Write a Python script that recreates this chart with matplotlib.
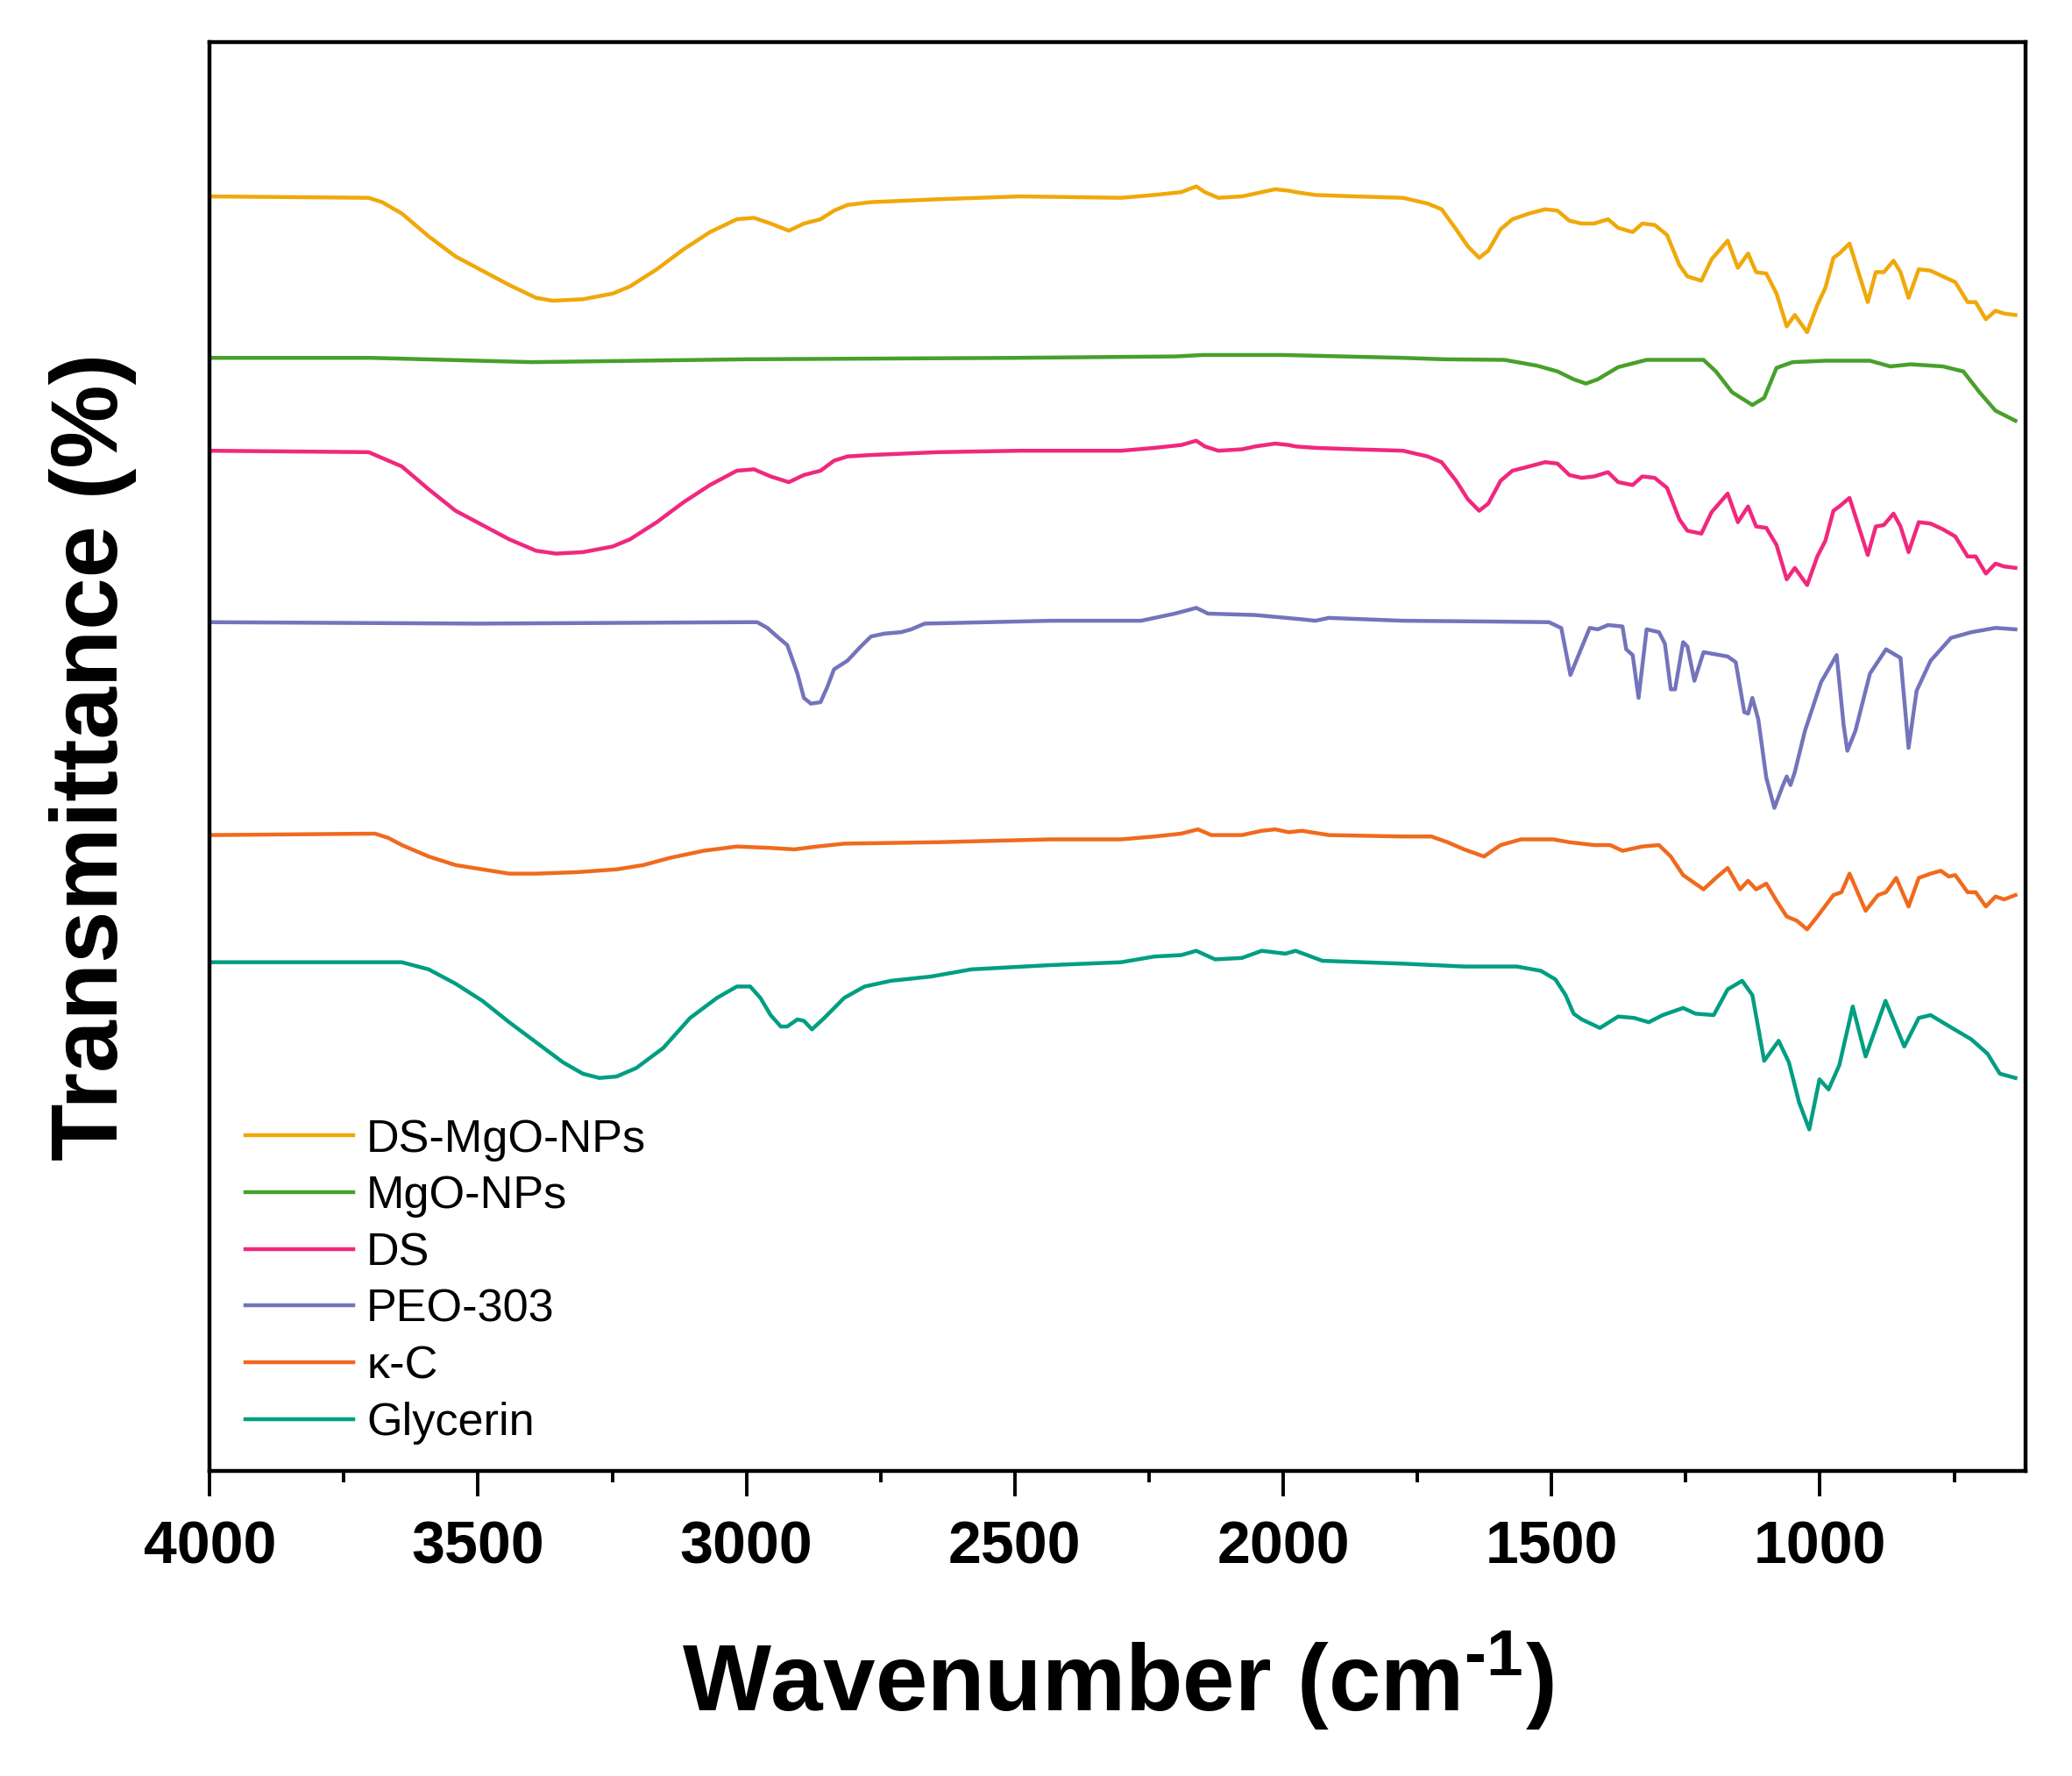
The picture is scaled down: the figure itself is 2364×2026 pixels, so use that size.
import numpy as np
import matplotlib
matplotlib.use("Agg")
import matplotlib.pyplot as plt
from matplotlib.ticker import MultipleLocator

# フォント
plt.rcParams["font.family"] = ["Liberation Sans", "DejaVu Sans"]
plt.rcParams["mathtext.fontset"] = "custom"
plt.rcParams["mathtext.rm"] = "Liberation Sans:bold"
plt.rcParams["mathtext.bf"] = "Liberation Sans:bold"
plt.rcParams["mathtext.default"] = "bf"

# データ (wavenumber, offset transmittance)
labels = ["DS-MgO-NPs", "MgO-NPs", "DS", "PEO-303", "κ-C", "Glycerin"]
colors = ["#F0A80A", "#48A02A", "#F0287E", "#7474BC", "#F06A1E", "#009E82"]

ds_mgo_x = [4000, 3704, 3679, 3642, 3592, 3542, 3492, 3442, 3392, 3361, 3305, 3249, 3217, 3167,
            3117, 3068, 3018, 2986, 2955, 2921, 2893, 2862, 2837, 2812, 2768, 2643, 2490, 2302,
            2240, 2190, 2162, 2146, 2121, 2077, 2052, 2015, 1990, 1977, 1940, 1865, 1777, 1731,
            1705, 1678, 1656, 1635, 1618, 1595, 1573, 1542, 1512, 1489, 1467, 1444, 1421, 1395,
            1376, 1349, 1331, 1308, 1285, 1262, 1247, 1221, 1202, 1172, 1153, 1134, 1119, 1100,
            1081, 1062, 1047, 1024, 1005, 990, 975, 964, 945, 911, 896, 881, 863, 850, 835, 816,
            794, 771, 748, 725, 710, 691, 673, 657, 636]
ds_mgo_y = [89.2, 89.1, 88.8, 88.0, 86.4, 85.0, 84.0, 83.0, 82.1, 81.9, 82.0, 82.4, 82.9, 84.1,
            85.5, 86.7, 87.6, 87.7, 87.3, 86.8, 87.3, 87.6, 88.2, 88.6, 88.8, 89.0, 89.2, 89.1,
            89.3, 89.5, 89.9, 89.5, 89.1, 89.2, 89.4, 89.7, 89.6, 89.5, 89.3, 89.2, 89.1, 88.7,
            88.3, 86.9, 85.7, 84.9, 85.4, 86.9, 87.6, 88.0, 88.3, 88.2, 87.5, 87.3, 87.3, 87.6,
            87.0, 86.7, 87.3, 87.2, 86.5, 84.4, 83.6, 83.3, 84.8, 86.1, 84.2, 85.2, 83.9, 83.8,
            82.4, 80.1, 80.9, 79.7, 81.6, 82.8, 84.9, 85.2, 85.9, 81.8, 83.9, 83.9, 84.7, 83.9,
            82.1, 84.1, 84.0, 83.6, 83.2, 81.8, 81.8, 80.6, 81.2, 81.0, 80.9]

mgo_x = [4000, 3700, 3400, 3000, 2500, 2200, 2150, 2000, 1777, 1701, 1588, 1527, 1489, 1459,
         1436, 1414, 1376, 1323, 1217, 1194, 1164, 1126, 1104, 1081, 1051, 990, 907, 869, 831,
         771, 733, 703, 673, 636]
mgo_y = [77.9, 77.9, 77.6, 77.8, 77.9, 78.0, 78.1, 78.1, 77.9, 77.8, 77.76, 77.35, 76.95, 76.4,
         76.1, 76.4, 77.25, 77.76, 77.76, 76.95, 75.5, 74.6, 75.1, 77.2, 77.6, 77.7, 77.7, 77.3,
         77.45, 77.3, 76.95, 75.5, 74.2, 73.5]

ds_x = [4000, 3704, 3642, 3592, 3542, 3492, 3442, 3392, 3355, 3305, 3249, 3217, 3167, 3117,
        3068, 3018, 2986, 2955, 2921, 2893, 2862, 2837, 2812, 2768, 2643, 2490, 2302, 2240,
        2190, 2162, 2146, 2121, 2077, 2052, 2015, 1990, 1977, 1940, 1865, 1777, 1731, 1705,
        1678, 1656, 1635, 1618, 1595, 1573, 1542, 1512, 1489, 1467, 1444, 1421, 1395, 1376,
        1349, 1331, 1308, 1285, 1262, 1247, 1221, 1202, 1172, 1153, 1134, 1119, 1100, 1081,
        1062, 1047, 1024, 1005, 990, 975, 964, 945, 911, 896, 881, 863, 850, 835, 816, 794,
        771, 748, 725, 710, 691, 673, 657, 636]
ds_y = [71.4, 71.3, 70.3, 68.7, 67.2, 66.2, 65.2, 64.4, 64.2, 64.3, 64.7, 65.2, 66.4, 67.8,
        69.0, 70.0, 70.1, 69.6, 69.2, 69.7, 70.0, 70.7, 71.0, 71.1, 71.3, 71.4, 71.4, 71.6,
        71.8, 72.1, 71.7, 71.4, 71.5, 71.7, 71.9, 71.8, 71.7, 71.6, 71.5, 71.4, 71.0, 70.6,
        69.3, 68.0, 67.2, 67.7, 69.3, 70.0, 70.3, 70.6, 70.5, 69.7, 69.5, 69.6, 69.9, 69.2,
        69.0, 69.6, 69.5, 68.8, 66.6, 65.8, 65.6, 67.1, 68.4, 66.4, 67.5, 66.1, 66.0, 64.8,
        62.4, 63.2, 62.0, 64.0, 65.1, 67.2, 67.5, 68.1, 64.1, 66.1, 66.2, 67.0, 66.1, 64.3,
        66.4, 66.3, 65.9, 65.4, 64.0, 64.0, 62.8, 63.5, 63.3, 63.2]

peo_x = [4000, 3500, 3000, 2980, 2961, 2943, 2924, 2905, 2893, 2880, 2862, 2849, 2837, 2812,
         2787, 2768, 2743, 2712, 2693, 2668, 2433, 2265, 2202, 2162, 2140, 2052, 1965, 1940,
         1915, 1777, 1625, 1505, 1482, 1465, 1452, 1429, 1414, 1395, 1368, 1361, 1349, 1338,
         1323, 1300, 1289, 1278, 1270, 1255, 1247, 1234, 1217, 1202, 1172, 1157, 1141, 1134,
         1126, 1115, 1100, 1085, 1070, 1062, 1055, 1047, 1028, 998, 969, 956, 949, 934, 907,
         877, 850, 835, 820, 794, 756, 718, 673, 636]
peo_y = [59.4, 59.3, 59.4, 59.4, 59.0, 58.4, 57.8, 55.8, 54.1, 53.7, 53.8, 54.9, 56.1, 56.7,
         57.7, 58.4, 58.6, 58.7, 58.9, 59.3, 59.5, 59.5, 60.0, 60.4, 60.0, 59.9, 59.6, 59.5,
         59.7, 59.5, 59.45, 59.4, 58.99, 55.7, 56.9, 59.0, 58.9, 59.2, 59.1, 57.5, 57.1, 54.1,
         58.9, 58.7, 57.9, 54.7, 54.7, 58.0, 57.7, 55.3, 57.3, 57.2, 57.0, 56.6, 53.1, 53.0,
         54.1, 52.6, 48.5, 46.4, 47.9, 48.6, 48.0, 48.9, 51.8, 55.2, 57.1, 52.2, 50.4, 51.8,
         55.8, 57.5, 56.9, 50.6, 54.6, 56.7, 58.3, 58.7, 59.0, 58.9]

kc_x = [4000, 3692, 3667, 3642, 3592, 3542, 3492, 3442, 3392, 3317, 3242, 3192, 3143, 3080,
        3018, 2955, 2911, 2868, 2818, 2643, 2433, 2302, 2240, 2190, 2159, 2134, 2077, 2040,
        2015, 1990, 1965, 1915, 1777, 1724, 1694, 1663, 1626, 1595, 1557, 1497, 1467, 1421,
        1391, 1368, 1331, 1300, 1278, 1255, 1217, 1194, 1172, 1149, 1134, 1119, 1100, 1081,
        1062, 1043, 1024, 1005, 975, 960, 945, 915, 892, 877, 858, 835, 816, 794, 775, 760,
        748, 725, 710, 691, 673, 657, 636]
kc_y = [44.5, 44.6, 44.3, 43.8, 43.0, 42.4, 42.1, 41.8, 41.8, 41.9, 42.1, 42.4, 42.9, 43.4,
        43.7, 43.6, 43.5, 43.7, 43.9, 44.0, 44.2, 44.2, 44.4, 44.6, 44.9, 44.5, 44.5, 44.8,
        44.9, 44.7, 44.8, 44.5, 44.4, 44.4, 44.0, 43.5, 43.0, 43.8, 44.2, 44.2, 44.0, 43.8,
        43.8, 43.4, 43.7, 43.8, 43.0, 41.7, 40.7, 41.5, 42.2, 40.7, 41.3, 40.7, 41.1, 39.9,
        38.8, 38.5, 37.9, 38.8, 40.3, 40.5, 41.8, 39.2, 40.3, 40.5, 41.5, 39.5, 41.5, 41.8,
        42.0, 41.6, 41.7, 40.5, 40.5, 39.5, 40.2, 40.0, 40.3]

gly_x = [4000, 3642, 3592, 3542, 3492, 3442, 3392, 3342, 3305, 3274, 3242, 3205, 3155, 3105,
         3055, 3018, 2993, 2974, 2955, 2936, 2924, 2905, 2893, 2878, 2855, 2818, 2780, 2731,
         2656, 2581, 2433, 2302, 2240, 2190, 2162, 2127, 2077, 2040, 1996, 1977, 1927, 1777,
         1663, 1565, 1520, 1493, 1474, 1459, 1444, 1410, 1376, 1346, 1319, 1293, 1255, 1232,
         1198, 1172, 1145, 1126, 1104, 1077, 1058, 1039, 1020, 1001, 984, 964, 939, 915, 878,
         843, 816, 794, 763, 718, 688, 665, 636]
gly_y = [35.6, 35.6, 35.1, 34.1, 32.9, 31.4, 30.0, 28.6, 27.8, 27.5, 27.6, 28.2, 29.6, 31.7,
         33.1, 33.9, 33.9, 33.1, 31.9, 31.1, 31.1, 31.6, 31.5, 30.9, 31.7, 33.1, 33.9, 34.3,
         34.6, 35.1, 35.4, 35.6, 36.0, 36.1, 36.4, 35.8, 35.9, 36.4, 36.2, 36.4, 35.7, 35.5,
         35.3, 35.3, 35.0, 34.4, 33.3, 32.0, 31.6, 31.0, 31.8, 31.7, 31.4, 31.9, 32.4, 32.0,
         31.9, 33.7, 34.3, 33.3, 28.7, 30.1, 28.6, 25.8, 23.9, 27.4, 26.7, 28.4, 32.5, 29.0,
         32.9, 29.7, 31.7, 31.9, 31.2, 30.2, 29.2, 27.8, 27.5]

series_x = [ds_mgo_x, mgo_x, ds_x, peo_x, kc_x, gly_x]
series_y = [ds_mgo_y, mgo_y, ds_y, peo_y, kc_y, gly_y]

fig = plt.figure(figsize=(11.82, 10.13), dpi=200)
ax = fig.add_axes([0.1012, 0.1718, 0.8764, 0.8045])

for xs, ys, c, lab in zip(series_x, series_y, colors, labels):
    ax.plot(xs, ys, color=c, lw=1.6, label=lab)

# 軸の設定
ax.set_xlim(4000, 617)
ax.set_ylim(0, 100)
ax.xaxis.set_major_locator(MultipleLocator(500))
ax.xaxis.set_minor_locator(MultipleLocator(250))
ax.set_yticks([])
ax.tick_params(axis="x", which="major", direction="out", length=10.4, width=1.4,
               labelsize=24.5, pad=9.5)
ax.tick_params(axis="x", which="minor", direction="out", length=4.8, width=1.4)
for lab in ax.get_xticklabels():
    lab.set_fontweight("bold")
for sp in ax.spines.values():
    sp.set_linewidth(1.6)

ax.set_xlabel(r"Wavenumber (cm$^{\text{-1}}$)", fontsize=38.5, fontweight="bold", labelpad=22)
ax.set_ylabel("Transmittance (%)", fontsize=38.5, fontweight="bold", labelpad=30)

ax.legend(loc="lower left", bbox_to_anchor=(0.0095, 0.0055), frameon=False, fontsize=18.8,
          handlelength=2.36, handletextpad=0.29, labelspacing=0.3, borderaxespad=0.0)

fig.savefig("out.png", dpi=200)
